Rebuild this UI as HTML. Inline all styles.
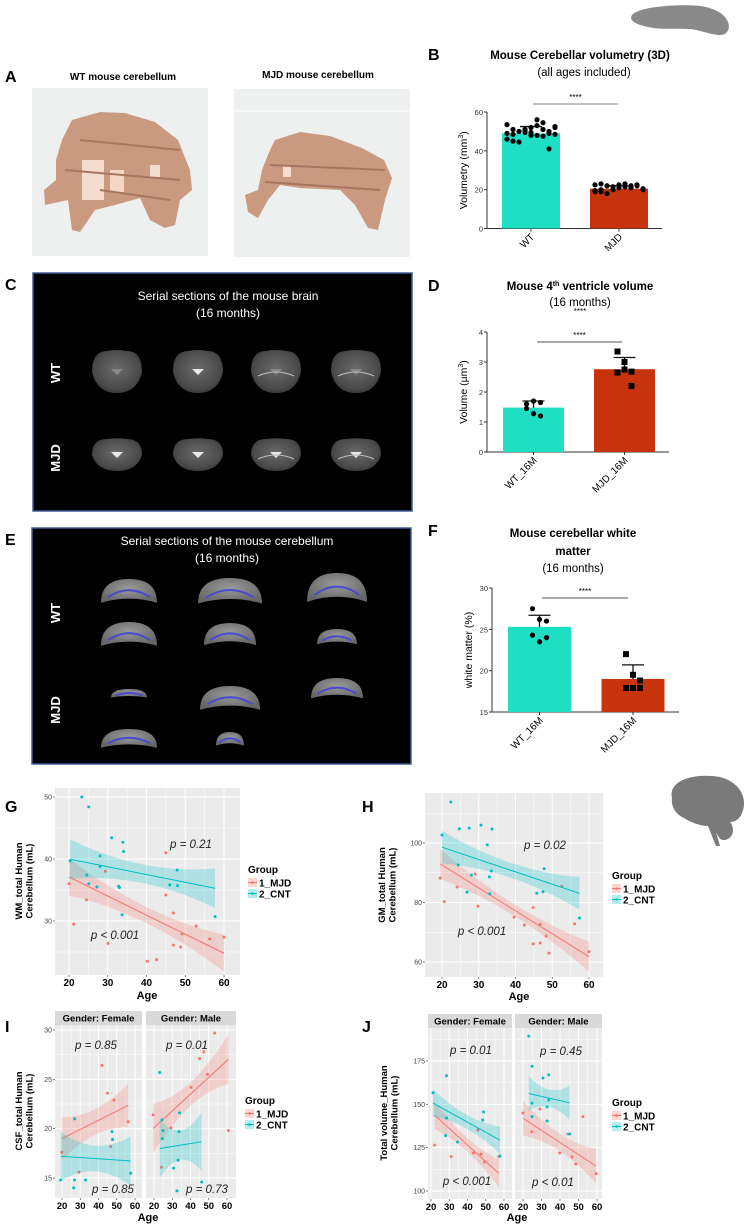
<!DOCTYPE html>
<html><head><meta charset="utf-8"><style>
html,body{margin:0;padding:0;background:#fff;}
svg{display:block;font-family:"Liberation Sans",Arial,sans-serif;}
.nar{font-family:"Liberation Sans Narrow","Liberation Sans",sans-serif;}
</style></head><body>
<svg id="fig" width="745" height="1225" viewBox="0 0 745 1225" xmlns="http://www.w3.org/2000/svg">
<defs>
<radialGradient id="slice" cx="50%" cy="45%" r="60%"><stop offset="0" stop-color="#6a6a6a"/><stop offset="0.75" stop-color="#4a4a4a"/><stop offset="1" stop-color="#333"/></radialGradient>
<radialGradient id="slice2" cx="50%" cy="40%" r="60%"><stop offset="0" stop-color="#9a9a9a"/><stop offset="1" stop-color="#666"/></radialGradient>
</defs>
<path d="M632,15 C640,6 680,4 700,6 C715,8 725,14 728,22 C731,30 726,36 718,35 C708,34 700,30 690,29 C675,28 660,30 648,27 C638,25 628,21 632,15Z" fill="#8a8a8a"/>
<path d="M672,798 C668,782 690,774 712,776 C732,777 745,790 744,805 C743,815 738,822 730,822 C735,828 734,838 725,840 C720,841 718,836 716,832 L720,846 L716,846 L708,826 C700,826 690,822 684,818 C675,814 671,806 672,798Z" fill="#7a7a7a"/>

<text x="5" y="82" font-size="16" font-weight="bold">A</text>
<text x="123" y="80" font-size="10" font-weight="bold" text-anchor="middle">WT mouse cerebellum</text>
<text x="318" y="78" font-size="10" font-weight="bold" text-anchor="middle">MJD mouse cerebellum</text>
<g>
<rect x="32" y="88" width="176" height="168" fill="#eef0f0"/>
<path d="M72,120 L100,112 L125,113 L155,122 L178,140 L190,170 L192,190 L180,200 L175,225 L165,228 L150,220 L140,198 L115,205 L95,210 L80,232 L72,230 L68,200 L45,205 L44,190 L56,180 L56,160 L62,140Z" fill="#c99a80"/>
<rect x="82" y="160" width="22" height="40" fill="#f4ddd0"/><rect x="110" y="170" width="14" height="22" fill="#f2d6c6"/><rect x="150" y="165" width="10" height="12" fill="#f4ddd0"/>
<path d="M80,140 L180,150 M65,170 L180,180 M100,190 L170,200" stroke="#a87560" stroke-width="2" fill="none"/>
</g>
<g>
<rect x="234" y="89" width="176" height="168" fill="#eef0f0"/><line x1="234" y1="111" x2="410" y2="111" stroke="#fff"/>
<path d="M275,140 L300,132 L330,136 L362,148 L384,160 L392,178 L385,200 L378,230 L368,228 L355,205 L340,190 L300,188 L280,185 L268,200 L258,218 L248,212 L245,195 L258,190 L262,170 L270,150Z" fill="#c99a80"/>
<rect x="283" y="165" width="8" height="12" fill="#f4ddd0"/>
<path d="M270,165 L385,170 M265,182 L380,190" stroke="#a87560" stroke-width="2" fill="none"/>
</g>

<text x="5" y="290" font-size="16" font-weight="bold">C</text>
<g>
<rect x="33" y="273" width="379" height="238" fill="#000" stroke="#3f5f95" stroke-width="1.5"/>
<text x="228" y="300" font-size="12" fill="#fff" text-anchor="middle">Serial sections of the mouse brain</text>
<text x="228" y="317" font-size="12" fill="#fff" text-anchor="middle">(16 months)</text>
<text transform="translate(60,373) rotate(-90)" font-size="13" font-weight="bold" fill="#fff" text-anchor="middle">WT</text>
<text transform="translate(60,458) rotate(-90)" font-size="13" font-weight="bold" fill="#fff" text-anchor="middle">MJD</text>
<g id="cslices"></g>
</g>

<text x="5" y="545" font-size="16" font-weight="bold">E</text>
<g>
<rect x="32" y="528" width="379" height="236" fill="#000" stroke="#3f5f95" stroke-width="1.5"/>
<text x="227" y="545" font-size="12" fill="#fff" text-anchor="middle">Serial sections of the mouse cerebellum</text>
<text x="227" y="562" font-size="12" fill="#fff" text-anchor="middle">(16 months)</text>
<text transform="translate(60,613) rotate(-90)" font-size="13" font-weight="bold" fill="#fff" text-anchor="middle">WT</text>
<text transform="translate(60,710) rotate(-90)" font-size="13" font-weight="bold" fill="#fff" text-anchor="middle">MJD</text>
<g id="eslices"></g>
</g>

<text x="428" y="60" font-size="16" font-weight="bold">B</text>
<text x="580" y="59" font-size="11.5" font-weight="bold" text-anchor="middle">Mouse Cerebellar volumetry (3D)</text>
<text x="584" y="76" font-size="11.5" text-anchor="middle">(all ages included)</text>
<text x="428" y="291" font-size="16" font-weight="bold">D</text>
<text x="580" y="290" font-size="11.5" font-weight="bold" text-anchor="middle">Mouse 4<tspan font-size="7" dy="-4">th</tspan><tspan dy="4"> ventricle volume</tspan></text>
<text x="580" y="306" font-size="11.5" text-anchor="middle">(16 months)</text>
<text x="580" y="314" font-size="8" text-anchor="middle">****</text>
<text x="428" y="536" font-size="16" font-weight="bold">F</text>
<text x="573" y="537" font-size="11.5" font-weight="bold" text-anchor="middle">Mouse cerebellar white</text>
<text x="573" y="555" font-size="11.5" font-weight="bold" text-anchor="middle">matter</text>
<text x="573" y="572" font-size="11.5" text-anchor="middle">(16 months)</text>

<text x="5" y="812" font-size="16" font-weight="bold">G</text>
<text x="362" y="812" font-size="16" font-weight="bold">H</text>
<text x="5" y="1032" font-size="16" font-weight="bold">I</text>
<text x="362" y="1032" font-size="16" font-weight="bold">J</text>

<g id="charts"></g>
</svg>
<script>
// ===== Bar chart data =====
const barCategoriesB = ["WT", "MJD"];
const barMeansB = [49, 20.5];
const barErrB = [52.5, 22];
const barPointsB_WT = [53.5,51,50,49.5,52,53,51,50,52.5,49,48.5,50,51,49.5,48,47.5,49,48.5,46,45,44.5,50.5,48,56,54.5,41,52];
const barPointsB_MJD = [22.5,23,22,21.5,22.5,23,21,22,20,19.5,19,18,20,21,21.5,22,22.5,20.5,19,20];
const yTicksB = [0,20,40,60];

const barCategoriesD = ["WT_16M", "MJD_16M"];
const barMeansD = [1.48, 2.76];
const barErrD = [1.7, 3.15];
const barPointsD_WT = [1.6,1.7,1.65,1.45,1.28,1.2];
const barPointsD_MJD = [3.35,3.0,2.68,2.65,2.75,2.2];
const yTicksD = [0,1,2,3,4];

const barCategoriesF = ["WT_16M", "MJD_16M"];
const barMeansF = [25.3, 19];
const barErrF = [26.7, 20.7];
const barPointsF_WT = [27.5,26.2,26,24.3,23.5,24];
const barPointsF_MJD = [22,19.5,18.8,17.9,17.9,17.9];
const yTicksF = [15,20,25,30];

// ===== Scatter data =====
const gMjdAge = [20,24.5,29.4,45,45,46.9,21.2,30.1,40.2,42.6,46.9,48.8,49.2,52.8,56.3,60];
const gMjdVal = [36,33.4,38,41,34.2,31.3,29.5,26.4,23.5,23.8,26.1,25.8,27.9,29.2,27.1,27.4];
const gCntAge = [23.3,25.1,31,33.9,34.1,28,20.3,28,24.6,25.1,27.2,32.8,33,47.9,46,48,33.7,57.7];
const gCntVal = [50,48.4,43.4,42.7,41.2,40.5,39.7,38.8,37.4,36,35.5,35.6,35.4,38.2,35.8,35.7,31,30.7];

const hMjdAge = [19.5,20.6,24.1,29,29.8,52.6,39.6,44.8,42.4,46.7,48.3,44.8,46.7,49.1,56.1,60];
const hMjdVal = [88.2,80.3,85.2,89.6,78.8,85.5,75.1,78.3,72.4,72.7,68.7,66.1,66.4,63,72.8,63.5];
const hCntAge = [22.4,20,24.7,27.4,30.6,33.6,32.3,24.4,28,33.4,32.9,26.8,33,47.8,45.8,47.5,57.4];
const hCntVal = [113.8,102.7,104.8,105,106,104.7,99.4,92.6,89.2,90.6,88.6,83.5,82.9,91.4,83.1,83.6,74.8];

const iFMjdAge = [19.9,29.3,41.9,44.9,48.5,46.7,56.3];
const iFMjdVal = [17.6,15.6,26.4,23.6,22.9,18.2,20.7];
const iFCntAge = [26.9,19.3,26.9,26.4,32.9,47.4,47.7,57.6];
const iFCntVal = [21,14.8,14.8,14,14.8,19.7,18.9,15.5];
const iMMjdAge = [19.5,29.3,40.3,45,47.3,49.3,53.2,60.8,24.1];
const iMMjdVal = [21.4,20.1,24.2,27.1,27.8,25.5,29.7,19.8,16.1];
const iMCntAge = [23.1,24.4,24.9,24.6,34,33.7,30.7,33.2,32.6,46.1];
const iMCntVal = [25.7,20.9,19.8,19,21.6,19.7,16,16.8,13.7,14.6];

const jFMjdAge = [22,31,43.3,47.4,45.7,49.4,57.2];
const jFMjdVal = [126.5,119.8,121.9,121.3,135.2,116.7,119.8];
const jFCntAge = [21.1,28.5,28.5,28,34.5,48.8,48.3,57.8];
const jFCntVal = [156.7,166.5,142.1,132,128.3,145.6,141,120.2];
const jMMjdAge = [20,24.6,29.2,39.8,44.3,46.5,48.5,52.4,59.5];
const jMMjdVal = [145,134.2,147.3,121.9,132.9,119.6,115.6,142.9,110];
const jMCntAge = [23.1,24.9,30.8,33.9,33.9,24.9,33,24.9,33,45.2];
const jMCntVal = [189.4,172,165.2,167,152.5,150.7,148.5,142.9,140.4,132.9];

// fitted values at ages 20 and 60, and CI half-width [middle, ends]
const fitAges = [20, 60];
const gFitMjd = [37.1, 24.8], gBandMjd = [1.3, 3];
const gFitCnt = [40, 35], gBandCnt = [1.5, 3.2];
const hFitMjd = [92.6, 61.8], hBandMjd = [2, 5];
const hFitCnt = [98.6, 82], hBandCnt = [2.5, 5.5];
const iFFitMjd = [19, 22.7], iFBandMjd = [1.3, 2.2];
const iFFitCnt = [17.2, 16.7], iFBandCnt = [1.3, 2.5];
const iMFitMjd = [20.1, 26.9], iMBandMjd = [1.2, 2.5];
const iMFitCnt = [17.9, 19.1], iMBandCnt = [1.5, 3];
const jFFitMjd = [145.6, 107.5], jFBandMjd = [4, 8];
const jFFitCnt = [151.4, 128], jFBandCnt = [4, 8];
const jMFitMjd = [142, 114], jMBandMjd = [5, 10];
const jMFitCnt = [157, 147.3], jMBandCnt = [5, 10];

const ageTicks = [20,30,40,50,60];
const gYTicks = [30,40,50];
const hYTicks = [60,80,100];
const iYTicks = [15,20,25,30];
const jYTicks = [100,125,150,175];
const groupLabels = ["1_MJD","2_CNT"];

const NS = "http://www.w3.org/2000/svg";
const root = document.getElementById("charts");
function mk(tag, attrs, parent, text) {
  const e = document.createElementNS(NS, tag);
  for (const k in attrs) e.setAttribute(k, attrs[k]);
  if (text !== undefined) e.textContent = text;
  (parent || root).appendChild(e);
  return e;
}

function barChart(cfg) {
  const g = mk("g", {});
  
  
  const y = v => cfg.y0px - (v - cfg.ymin) / (cfg.ymax - cfg.ymin) * (cfg.y0px - cfg.y1px);
  const ax = mk("line", {x1: cfg.axX, y1: cfg.y1px, x2: cfg.axX, y2: cfg.y0px, stroke: "#333", "stroke-width": 1}, g);
  
  
  const xa = mk("line", {x1: cfg.axX, y1: cfg.y0px, x2: cfg.axEnd, y2: cfg.y0px, stroke: "#333", "stroke-width": 1}, g);
  
  
  cfg.yTicks.forEach(t => {
    mk("line", {x1: cfg.axX - 3, x2: cfg.axX, y1: y(t), y2: y(t), stroke: "#333"}, g);
    const tl = mk("text", {x: cfg.axX - 4, y: y(t) + 3, "font-size": 7.5, "text-anchor": "end", fill: "#333"}, g, t);
    
    
  });
  const yt = mk("text", {transform: `translate(${cfg.axX - 20},${(cfg.y0px + cfg.y1px) / 2}) rotate(-90)`, "font-size": 10.5, "text-anchor": "middle"}, g);
  yt.innerHTML = cfg.ytitle;
  
  
  const colors = ["#1edec4", "#c7330c"];
  const sets = [cfg.ptsA, cfg.ptsB];
  cfg.cats.forEach((c, i) => {
    const cx = cfg.cx[i];
    const b = mk("rect", {x: cx - cfg.bw / 2, y: y(cfg.means[i]), width: cfg.bw, height: cfg.y0px - y(cfg.means[i]), fill: colors[i]}, g);
    
    
    mk("line", {x1: cx, x2: cx, y1: y(cfg.means[i]), y2: y(cfg.err[i]), stroke: "#111", "stroke-width": 1.3}, g);
    const eb = mk("line", {x1: cx - 11, x2: cx + 11, y1: y(cfg.err[i]), y2: y(cfg.err[i]), stroke: "#111", "stroke-width": 1.3}, g);
    
    
    mk("line", {x1: cx, x2: cx, y1: cfg.y0px, y2: cfg.y0px + 3, stroke: "#333"}, g);
    const n = sets[i].length;
    sets[i].forEach((v, j) => {
      const cols = Math.min(n, cfg.cols);
      const off = ((j % cols) - (cols - 1) / 2) * cfg.spread;
      let m;
      if (cfg.square && i === 1) m = mk("rect", {x: cx + off - 3, y: y(v) - 3, width: 6, height: 6, fill: "#000"}, g);
      else m = mk("circle", {cx: cx + off, cy: y(v), r: cfg.r, fill: "#000"}, g);
      
      
    });
    const tl = mk("text", {transform: `translate(${cx + 4},${cfg.y0px + 9}) rotate(-45)`, "font-size": 10, "text-anchor": "end"}, g, c);
    
    
  });
  const sl = mk("line", {x1: cfg.sig[0], x2: cfg.sig[1], y1: cfg.sig[2], y2: cfg.sig[2], stroke: cfg.sigColor, "stroke-width": cfg.sigW}, g);
  
  
  const st = mk("text", {x: (cfg.sig[0] + cfg.sig[1]) / 2, y: cfg.sig[2] - 4, "font-size": 8, "text-anchor": "middle"}, g, "****");
  
  
}
barChart({name: "chart-b-volumetry", cats: barCategoriesB, means: barMeansB, err: barErrB, ptsA: barPointsB_WT, ptsB: barPointsB_MJD,
  yTicks: yTicksB, ymin: 0, ymax: 60, y0px: 228.5, y1px: 112, axX: 487, axEnd: 662, cx: [531, 619], bw: 58, cols: 9, spread: 6, r: 2.6,
  ytitle: 'Volumetry (mm<tspan font-size="7" dy="-4">3</tspan><tspan dy="4">)</tspan>', sig: [533, 618, 104], sigColor: "#555", sigW: 0.8});
barChart({name: "chart-d-ventricle", cats: barCategoriesD, means: barMeansD, err: barErrD, ptsA: barPointsD_WT, ptsB: barPointsD_MJD,
  yTicks: yTicksD, ymin: 0, ymax: 4, y0px: 452, y1px: 332, axX: 487, axEnd: 669, cx: [533.5, 624.5], bw: 61, cols: 3, spread: 7, r: 2.6, square: true,
  ytitle: 'Volume (µm<tspan font-size="7" dy="-4">3</tspan><tspan dy="4">)</tspan>', sig: [537, 622, 342], sigColor: "#aaa", sigW: 2});
barChart({name: "chart-f-white-matter", cats: barCategoriesF, means: barMeansF, err: barErrF, ptsA: barPointsF_WT, ptsB: barPointsF_MJD,
  yTicks: yTicksF, ymin: 15, ymax: 30, y0px: 712, y1px: 588, axX: 492, axEnd: 679, cx: [539.5, 633], bw: 63, cols: 3, spread: 7, r: 2.6, square: true,
  ytitle: 'white matter (%)', sig: [542, 628, 598], sigColor: "#aaa", sigW: 2});

const RED = "#F8766D", CYAN = "#00BFC4";
function facet(cfg) {
  const g = mk("g", {});
  
  
  const X = a => cfg.x20 + (a - 20) * cfg.kx;
  const Y = v => cfg.yref - (v - cfg.vref) * cfg.ky;
  const bg = mk("rect", {x: cfg.px0, y: cfg.py0, width: cfg.px1 - cfg.px0, height: cfg.py1 - cfg.py0, fill: "#ebebeb"}, g);
  
  
  const step = cfg.yTicks[1] - cfg.yTicks[0];
  for (let v = cfg.yTicks[0] - step; v <= cfg.yTicks[cfg.yTicks.length - 1] + step; v += step / 2) {
    const yy = Y(v);
    if (yy < cfg.py0 || yy > cfg.py1) continue;
    mk("line", {x1: cfg.px0, x2: cfg.px1, y1: yy, y2: yy, stroke: "#fff", "stroke-width": (Math.abs((v - cfg.yTicks[0]) % step) < 1e-6) ? 1 : 0.5}, g);
  }
  for (let a = 15; a <= 65; a += 5) {
    const xx = X(a);
    if (xx < cfg.px0 || xx > cfg.px1) continue;
    mk("line", {x1: xx, x2: xx, y1: cfg.py0, y2: cfg.py1, stroke: "#fff", "stroke-width": a % 10 === 0 ? 1 : 0.5}, g);
  }
  cfg.series.forEach(s => {
    const slope = (s.fit[1] - s.fit[0]) / (fitAges[1] - fitAges[0]);
    const f = a => s.fit[0] + slope * (a - fitAges[0]);
    const lo = Math.min(...s.ages), hi = Math.max(...s.ages);
    const mid = (lo + hi) / 2, half = (hi - lo) / 2;
    const hw = a => s.band[0] + (s.band[1] - s.band[0]) * ((a - mid) / half) ** 2;
    let up = [], dn = [];
    for (let k = 0; k <= 20; k++) {
      const a = lo + (hi - lo) * k / 20;
      up.push(X(a).toFixed(1) + "," + Math.max(cfg.py0, Y(f(a) + hw(a))).toFixed(1));
      dn.unshift(X(a).toFixed(1) + "," + Math.min(cfg.py1, Y(f(a) - hw(a))).toFixed(1));
    }
    const band = mk("polygon", {points: up.concat(dn).join(" "), fill: s.color, opacity: 0.25}, g);
    
    
    const ln = mk("line", {x1: X(lo), y1: Y(f(lo)), x2: X(hi), y2: Y(f(hi)), stroke: s.color, "stroke-width": 1}, g);
    
    
    s.ages.forEach((a, i) => {
      const p = mk("circle", {cx: X(a), cy: Y(s.vals[i]), r: 1.5, fill: s.color}, g);
      
      
    });
  });
  if (cfg.yLabels) cfg.yTicks.forEach(t => {
    const yy = Y(t);
    mk("line", {x1: cfg.px0 - 2, x2: cfg.px0, y1: yy, y2: yy, stroke: "#333", "stroke-width": 0.6}, g);
    const tl = mk("text", {x: cfg.px0 - 3, y: yy + 2.5, "font-size": 7, "text-anchor": "end", fill: "#444", class: "nar"}, g, t);
    
    
  });
  ageTicks.forEach(a => {
    const xx = X(a);
    mk("line", {x1: xx, x2: xx, y1: cfg.py1, y2: cfg.py1 + 2, stroke: "#333", "stroke-width": 0.6}, g);
    const tl = mk("text", {x: xx, y: cfg.py1 + 11, "font-size": cfg.xfs || 10, "font-weight": "bold", "text-anchor": "middle", class: "nar"}, g, a);
    
    
  });
  if (cfg.strip) {
    const sr = mk("rect", {x: cfg.px0, y: cfg.py0 - 14, width: cfg.px1 - cfg.px0, height: 14, fill: "#d9d9d9"}, g);
    
    
    const stx = mk("text", {x: (cfg.px0 + cfg.px1) / 2, y: cfg.py0 - 3.5, "font-size": 9.5, "font-weight": "bold", "text-anchor": "middle", class: "nar"}, g, cfg.strip);
    
    
  }
  cfg.pv.forEach(p => {
    const t = mk("text", {x: p[0], y: p[1], "font-size": 11.5, "font-style": "italic", "text-anchor": "middle", fill: "#222", class: "nar"}, g, p[2]);
    
    
  });
}
function axisTitles(cx, cy, l1, l2, ageX, ageY) {
  const t = mk("text", {transform: `translate(${cx},${cy}) rotate(-90)`, "font-size": 9.5, "font-weight": "bold", "text-anchor": "middle"});
  t.innerHTML = `<tspan x="0" dy="0">${l1}</tspan><tspan x="0" dy="10.5">${l2}</tspan>`;
  
  
  const a = mk("text", {x: ageX, y: ageY, "font-size": 11, "font-weight": "bold", "text-anchor": "middle", class: "nar"}, root, "Age");
  
  
}
function legend(x, y) {
  const g = mk("g", {});
  
  
  mk("text", {x: x, y: y, "font-size": 10, "font-weight": "bold", class: "nar"}, g, "Group");
  [RED, CYAN].forEach((c, i) => {
    const yy = y + 5 + i * 11;
    const e = mk("g", {}, g);
    
    
    mk("rect", {x: x, y: yy, width: 9, height: 9, fill: c, opacity: 0.3}, e);
    mk("line", {x1: x, x2: x + 9, y1: yy + 4.5, y2: yy + 4.5, stroke: c}, e);
    mk("circle", {cx: x + 4.5, cy: yy + 4.5, r: 1.3, fill: c}, e);
    mk("text", {x: x + 11, y: yy + 8.5, "font-size": 10, "font-weight": "bold", class: "nar"}, e, groupLabels[i]);
  });
}

facet({name: "chart-g-wm", px0: 55, px1: 240, py0: 788, py1: 975, x20: 69, kx: 3.875, vref: 50, yref: 797, ky: 6.2, yTicks: gYTicks, yLabels: true,
  series: [{key: "mjd", ages: gMjdAge, vals: gMjdVal, fit: gFitMjd, band: gBandMjd, color: RED}, {key: "cnt", ages: gCntAge, vals: gCntVal, fit: gFitCnt, band: gBandCnt, color: CYAN}],
  pv: [[191, 848, "p = 0.21"], [115, 939, "p < 0.001"]]});
axisTitles(22, 881, "WM_total Human", "Cerebellum (mL)", 147, 999);
legend(248, 873);

facet({name: "chart-h-gm", px0: 425, px1: 603, py0: 793, py1: 977, x20: 442, kx: 3.675, vref: 100, yref: 843, ky: 2.975, yTicks: hYTicks, yLabels: true,
  series: [{key: "mjd", ages: hMjdAge, vals: hMjdVal, fit: hFitMjd, band: hBandMjd, color: RED}, {key: "cnt", ages: hCntAge, vals: hCntVal, fit: hFitCnt, band: hBandCnt, color: CYAN}],
  pv: [[545, 849, "p = 0.02"], [482, 935, "p < 0.001"]]});
axisTitles(385, 885, "GM_total Human", "Cerebellum (mL)", 519, 1000);
legend(612, 879);

facet({name: "chart-i-csf-female", px0: 55, px1: 142, py0: 1025, py1: 1198, x20: 62, kx: 1.825, vref: 30, yref: 1030, ky: 9.87, yTicks: iYTicks, yLabels: true, strip: "Gender: Female", xfs: 9.5,
  series: [{key: "mjd", ages: iFMjdAge, vals: iFMjdVal, fit: iFFitMjd, band: iFBandMjd, color: RED}, {key: "cnt", ages: iFCntAge, vals: iFCntVal, fit: iFFitCnt, band: iFBandCnt, color: CYAN}],
  pv: [[96, 1049, "p = 0.85"], [113, 1193, "p = 0.85"]]});
facet({name: "chart-i-csf-male", px0: 146, px1: 236, py0: 1025, py1: 1198, x20: 154, kx: 1.825, vref: 30, yref: 1030, ky: 9.87, yTicks: iYTicks, yLabels: false, strip: "Gender: Male", xfs: 9.5,
  series: [{key: "mjd", ages: iMMjdAge, vals: iMMjdVal, fit: iMFitMjd, band: iMBandMjd, color: RED}, {key: "cnt", ages: iMCntAge, vals: iMCntVal, fit: iMFitCnt, band: iMBandCnt, color: CYAN}],
  pv: [[187, 1049, "p = 0.01"], [207, 1193, "p = 0.73"]]});
axisTitles(22, 1111, "CSF_total Human", "Cerebellum (mL)", 148, 1221);
legend(245, 1104);

facet({name: "chart-j-total-female", px0: 428, px1: 512, py0: 1028, py1: 1199, x20: 431, kx: 1.825, vref: 100, yref: 1191, ky: 1.733, yTicks: jYTicks, yLabels: true, strip: "Gender: Female", xfs: 9.5,
  series: [{key: "mjd", ages: jFMjdAge, vals: jFMjdVal, fit: jFFitMjd, band: jFBandMjd, color: RED}, {key: "cnt", ages: jFCntAge, vals: jFCntVal, fit: jFFitCnt, band: jFBandCnt, color: CYAN}],
  pv: [[471, 1054, "p = 0.01"], [467, 1185, "p < 0.001"]]});
facet({name: "chart-j-total-male", px0: 515, px1: 602, py0: 1028, py1: 1199, x20: 523, kx: 1.85, vref: 100, yref: 1191, ky: 1.733, yTicks: jYTicks, yLabels: false, strip: "Gender: Male", xfs: 9.5,
  series: [{key: "mjd", ages: jMMjdAge, vals: jMMjdVal, fit: jMFitMjd, band: jMBandMjd, color: RED}, {key: "cnt", ages: jMCntAge, vals: jMCntVal, fit: jMFitCnt, band: jMBandCnt, color: CYAN}],
  pv: [[561, 1055, "p = 0.45"], [553, 1186, "p < 0.01"]]});
axisTitles(387, 1113, "Total volume_Human", "Cerebellum (mL)", 517, 1221);
legend(612, 1106);

// ===== MRI slice approximations =====
const cs = document.getElementById("cslices");
[117, 198, 276, 356].forEach((x, i) => {
  [372, 455].forEach((y, r) => {
    const w = 25, h = r === 0 ? 21 : 16;
    mk("path", {d: `M${x-w},${y} Q${x-w},${y-h} ${x-w*0.4},${y-h} Q${x},${y-h*1.1} ${x+w*0.4},${y-h} Q${x+w},${y-h} ${x+w},${y} Q${x+w*0.8},${y+h} ${x},${y+h} Q${x-w*0.8},${y+h} ${x-w},${y}Z`, fill: "url(#slice)"}, cs);
    mk("path", {d: `M${x-6},${y-3} L${x+6},${y-3} L${x},${y+3}Z`, fill: r === 1 || i === 1 ? "#e8e8e8" : "#888"}, cs);
    if (i >= 2) mk("path", {d: `M${x-18},${y+4} Q${x},${y-4} ${x+18},${y+4}`, stroke: "#bbb", "stroke-width": 1, fill: "none"}, cs);
  });
});
const es = document.getElementById("eslices");
const eshapes = [[129,593,28,14],[230,593,32,15],[337,590,30,17],[129,636,28,14],[230,636,26,13],[337,638,20,9],[129,694,18,5],[230,700,30,14],[337,690,26,12],[129,740,28,11],[230,740,14,8]];
eshapes.forEach(s => {
  const [x, y, w, h] = s;
  mk("path", {d: `M${x-w},${y+h*0.7} Q${x-w},${y-h} ${x},${y-h} Q${x+w},${y-h} ${x+w},${y+h*0.7} Q${x},${y+h*0.1} ${x-w},${y+h*0.7}Z`, fill: "url(#slice2)"}, es);
  mk("path", {d: `M${x-w*0.75},${y+h*0.3} Q${x},${y-h*0.7} ${x+w*0.75},${y+h*0.3}`, stroke: "#4a4ad0", "stroke-width": 2, fill: "none"}, es);
});
</script>
</body></html>
